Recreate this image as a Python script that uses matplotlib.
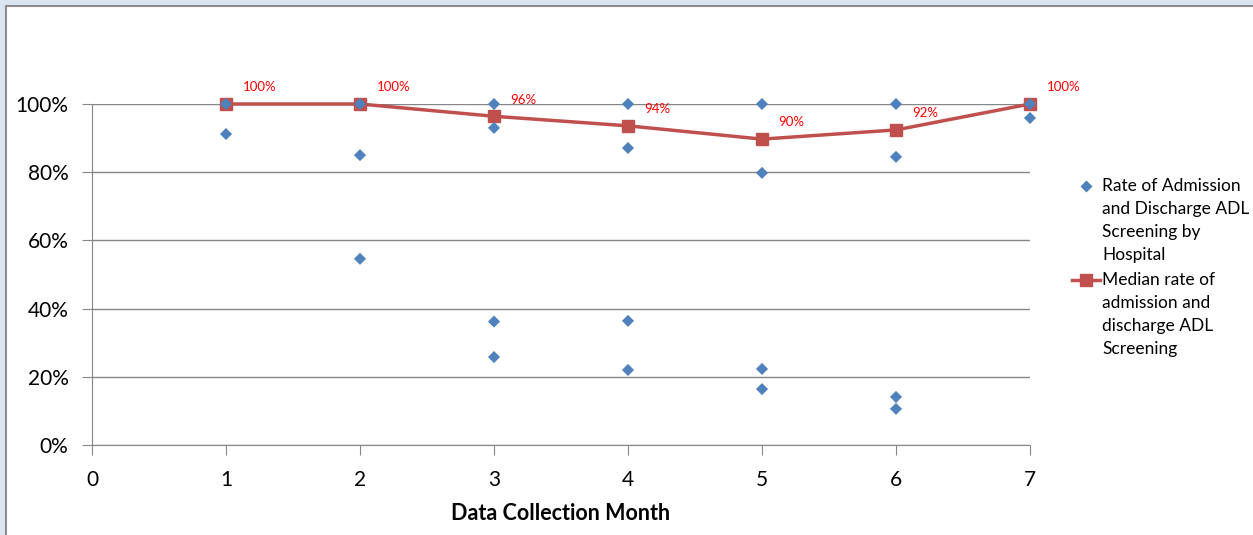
import numpy as np
import matplotlib.pyplot as plt
from matplotlib.patches import Rectangle
from matplotlib.lines import Line2D
from matplotlib.ticker import PercentFormatter

plt.rcParams['font.family'] = ['Lato', 'DejaVu Sans']

# hospital-level screening rates per collection month
hosp_month = [1, 1,
              2, 2, 2,
              3, 3, 3, 3,
              4, 4, 4, 4,
              5, 5, 5, 5,
              6, 6, 6, 6,
              7, 7]
hosp_rate = [1.00, 0.912,
             1.00, 0.850, 0.546,
             1.00, 0.930, 0.362, 0.258,
             1.00, 0.871, 0.364, 0.220,
             1.00, 0.798, 0.223, 0.164,
             1.00, 0.845, 0.141, 0.106,
             1.00, 0.959]

# median rate per month
months = [1, 2, 3, 4, 5, 6, 7]
median_rate = [1.00, 1.00, 0.964, 0.936, 0.897, 0.924, 1.00]

hosp_label = ['Rate of Admission', 'and Discharge ADL', 'Screening by', 'Hospital']
median_label = ['Median rate of', 'admission and', 'discharge ADL', 'Screening']

blue = '#4F81BD'
red = '#C0504D'
grid = '#868686'

W, H = 1253, 535
fig = plt.figure(figsize=(W / 100, H / 100), dpi=100)


def fx(px):
    return px / W


def fy(py):
    return 1 - py / H


# window frame around the chart
fig.patches.append(Rectangle((0, fy(5)), 1, 5 / H, transform=fig.transFigure,
                             facecolor='#DCE6F2', edgecolor='none', zorder=0))
fig.patches.append(Rectangle((0, 0), fx(5), 1, transform=fig.transFigure,
                             facecolor='#DCE6F2', edgecolor='none', zorder=0))
fig.lines.append(Line2D([fx(5.5), 1], [fy(5.5)] * 2, transform=fig.transFigure,
                        color='#8C8C8C', lw=1.5))
fig.lines.append(Line2D([fx(5.5)] * 2, [0, fy(5.5)], transform=fig.transFigure,
                        color='#8C8C8C', lw=1.5))

ax = fig.add_axes([fx(92), fy(445), fx(1030 - 92), (445 - 104) / H])
ax.set_xlim(0, 7)
ax.set_ylim(0, 1.0)

ax.plot(months, median_rate, color=red, lw=2.5, marker='s', ms=8.5,
        clip_on=False, zorder=3)
ax.scatter(hosp_month, hosp_rate, marker='D', s=38, color=blue, edgecolors='none',
           clip_on=False, zorder=4)

for m, r in zip(months, median_rate):
    ax.annotate('{:.0%}'.format(r), (m, r), xytext=(12, 12), textcoords='offset points',
                ha='left', va='center', color='#FF0000', fontsize=9.5)

ax.set_xticks(range(0, 8))
ax.set_yticks(np.arange(0, 1.01, 0.2))
ax.yaxis.set_major_formatter(PercentFormatter(1.0, decimals=0))
ax.grid(axis='y', color=grid, lw=1)
ax.set_axisbelow(True)
for side in ['top', 'right']:
    ax.spines[side].set_visible(False)
for side in ['left', 'bottom']:
    ax.spines[side].set_color(grid)
ax.tick_params(axis='both', color=grid, length=7, labelsize=15)
ax.tick_params(axis='x', pad=11)
ax.tick_params(axis='y', pad=10)
ax.set_xlabel('Data Collection Month', fontsize=15.5, fontweight='bold', labelpad=9)

# legend, one text row per line so each key sits on its first row
row = 23
for i, line in enumerate(hosp_label):
    fig.text(fx(1102), fy(186 + i * row), line, fontsize=12.5, va='center', ha='left')
for i, line in enumerate(median_label):
    fig.text(fx(1102), fy(280 + i * row), line, fontsize=12.5, va='center', ha='left')
fig.lines.append(Line2D([fx(1086)], [fy(186)], transform=fig.transFigure, ls='none',
                        marker='D', ms=6, color=blue, mec='none'))
fig.lines.append(Line2D([fx(1072), fx(1100)], [fy(280)] * 2, transform=fig.transFigure,
                        color=red, lw=2.5))
fig.lines.append(Line2D([fx(1086)], [fy(280)], transform=fig.transFigure, ls='none',
                        marker='s', ms=8.5, color=red))

fig.savefig('out.png', dpi=100)
